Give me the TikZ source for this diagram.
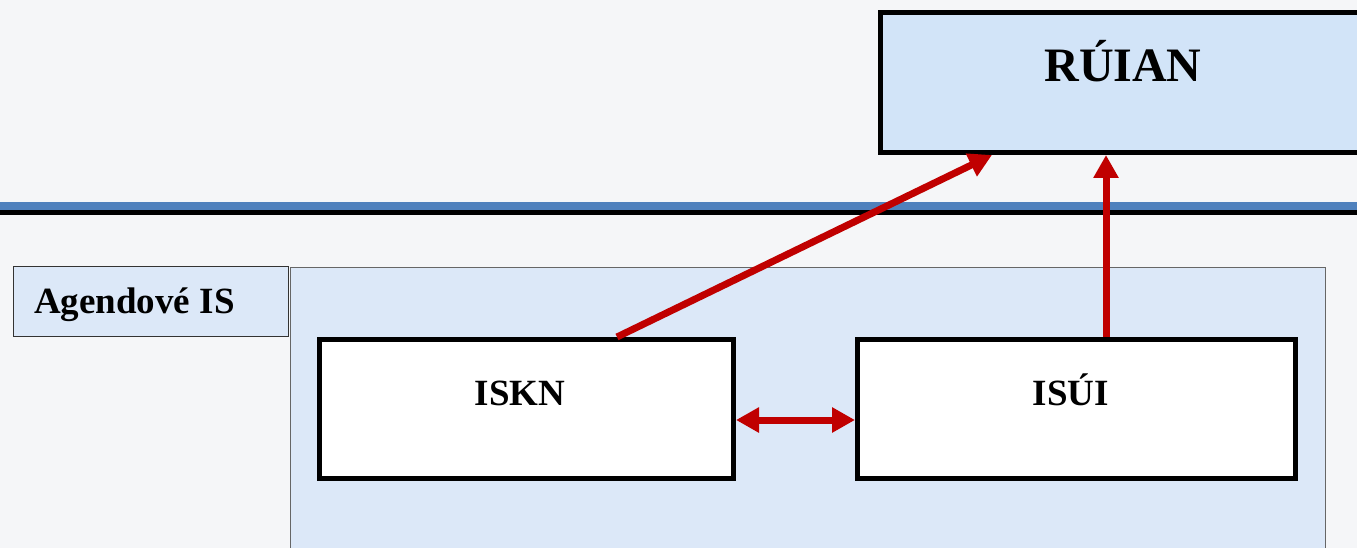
\documentclass[tikz,border=0pt]{standalone}
\usepackage{fontspec}
\setmainfont{Liberation Serif}
\usetikzlibrary{arrows.meta,calc}
\definecolor{bgc}{HTML}{F5F6F8}
\definecolor{topfill}{HTML}{D2E4F8}
\definecolor{panelfill}{HTML}{DCE8F8}
\definecolor{bandblue}{HTML}{4F81BD}
\definecolor{arrred}{HTML}{C00000}
\tikzset{
  sysbox/.style={draw=black,line width=5pt,inner sep=0pt,rectangle},
  boxtext/.style={font=\fontsize{37}{40}\selectfont\bfseries,inner sep=0pt,anchor=base},
  flow/.style={draw=arrred,line width=7pt,-{Triangle[length=23pt,width=24pt]}},
  flow2/.style={draw=arrred,line width=7pt,{Triangle[length=23pt,width=24pt]}-{Triangle[length=23pt,width=24pt]}}
}
\begin{document}
\begin{tikzpicture}[x=1pt,y=-1pt]
\useasboundingbox (0,0) rectangle (1357,548);
\fill[bgc] (0,0) rectangle (1357,548);
% separator band
\fill[bandblue] (0,202) rectangle (1357,210);
\fill[black] (0,210) rectangle (1357,215);
% panel
\node[draw=gray!80!black,line width=1pt,fill=panelfill,minimum width=1035pt,minimum height=300pt,inner sep=0pt,anchor=north west] (panel) at (290,267) {};
\node[draw=gray!40!black,line width=1pt,fill=panelfill,minimum width=275pt,minimum height=70pt,inner sep=0pt,anchor=north west] (agbox) at (13,266) {};
\node[boxtext,anchor=base west] (agtext) at (34,313) {Agendové IS};
% top box
\node[sysbox,fill=topfill,minimum width=487pt,minimum height=140pt] (ruian) at (1124,82.5) {};
\node[boxtext,font=\fontsize{48}{52}\selectfont\bfseries] (ruiantext) at (1123,82) {RÚIAN};
% system boxes
\node[sysbox,fill=white,minimum width=414pt,minimum height=139pt] (iskn) at (526.5,409) {};
\node[boxtext] (iskntext) at (520,405) {ISKN};
\node[sysbox,fill=white,minimum width=438pt,minimum height=139pt] (isui) at (1076.5,409) {};
\node[boxtext] (isuitext) at (1071,405) {ISÚI};
% connectors
\draw[flow] ([xshift=90.5pt]iskn.north) -- ([xshift=-132pt]ruian.south);
\draw[flow] ([xshift=29.5pt]isui.north) -- ([xshift=-18pt]ruian.south);
\draw[flow2] ([yshift=-11pt]iskn.east) -- ([yshift=-11pt]isui.west);
\end{tikzpicture}
\end{document}
